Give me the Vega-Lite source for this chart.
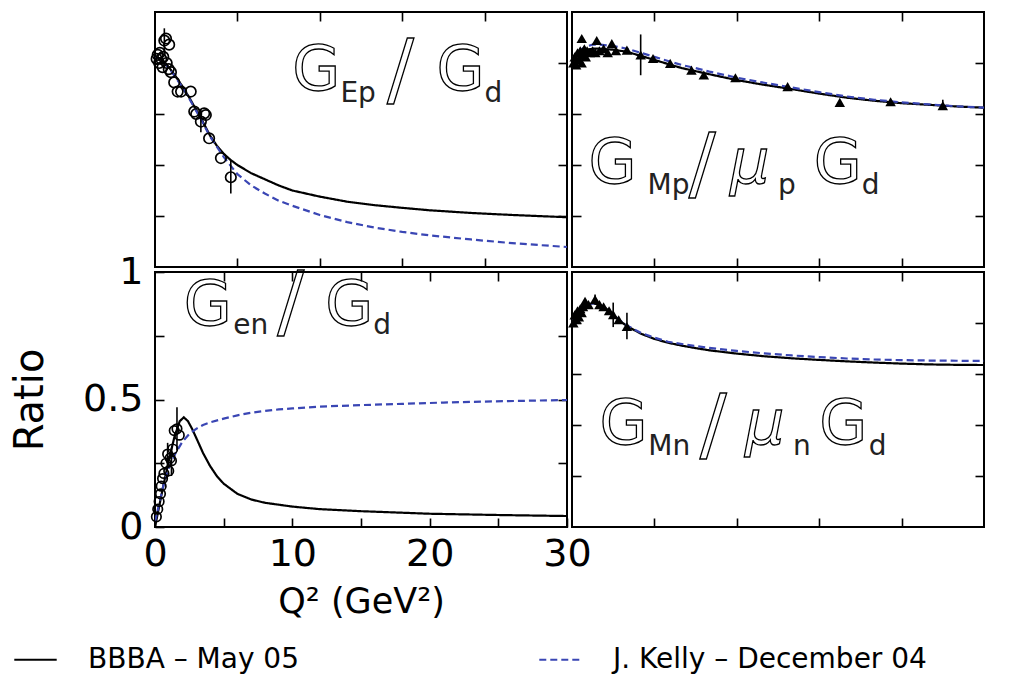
{
  "$schema": "https://vega.github.io/schema/vega-lite/v6.json",
  "padding": {"left": 9, "top": 10, "right": 5, "bottom": 0},
  "background": "white",
  "config": {
    "view": {"stroke": "black", "strokeWidth": 2},
    "axis": {"grid": false, "domain": false, "ticks": true, "tickSize": -9, "tickColor": "black", "tickWidth": 1.6, "labelFont": "DejaVu Sans", "labelFontSize": 38, "labelColor": "black", "titleFont": "DejaVu Sans", "titleFontWeight": "normal", "titleColor": "black", "labelFlush": false, "labelOverlap": false},
    "text": {"font": "DejaVu Sans"}
  },
  "datasets": {
    "curves": [
      {"p":"EP","m":"BBBA – May 05","q":0,"r":1.03},{"p":"EP","m":"BBBA – May 05","q":0.5,"r":1.015},{"p":"EP","m":"BBBA – May 05","q":1,"r":0.98},{"p":"EP","m":"BBBA – May 05","q":1.5,"r":0.935},{"p":"EP","m":"BBBA – May 05","q":2,"r":0.885},{"p":"EP","m":"BBBA – May 05","q":2.5,"r":0.83},{"p":"EP","m":"BBBA – May 05","q":3,"r":0.77},{"p":"EP","m":"BBBA – May 05","q":3.5,"r":0.71},{"p":"EP","m":"BBBA – May 05","q":4,"r":0.645},{"p":"EP","m":"BBBA – May 05","q":4.5,"r":0.595},{"p":"EP","m":"BBBA – May 05","q":5,"r":0.555},{"p":"EP","m":"BBBA – May 05","q":5.5,"r":0.525},{"p":"EP","m":"BBBA – May 05","q":6,"r":0.5},{"p":"EP","m":"BBBA – May 05","q":7,"r":0.46},{"p":"EP","m":"BBBA – May 05","q":8,"r":0.43},{"p":"EP","m":"BBBA – May 05","q":9,"r":0.4},{"p":"EP","m":"BBBA – May 05","q":10,"r":0.375},{"p":"EP","m":"BBBA – May 05","q":12,"r":0.345},{"p":"EP","m":"BBBA – May 05","q":14,"r":0.32},{"p":"EP","m":"BBBA – May 05","q":16,"r":0.303},{"p":"EP","m":"BBBA – May 05","q":18,"r":0.29},{"p":"EP","m":"BBBA – May 05","q":20,"r":0.278},{"p":"EP","m":"BBBA – May 05","q":23,"r":0.265},{"p":"EP","m":"BBBA – May 05","q":26,"r":0.255},{"p":"EP","m":"BBBA – May 05","q":30,"r":0.244},
      {"p":"EP","m":"J. Kelly – December 04","q":0,"r":1.03},{"p":"EP","m":"J. Kelly – December 04","q":0.5,"r":1.015},{"p":"EP","m":"J. Kelly – December 04","q":1,"r":0.975},{"p":"EP","m":"J. Kelly – December 04","q":1.5,"r":0.93},{"p":"EP","m":"J. Kelly – December 04","q":2,"r":0.88},{"p":"EP","m":"J. Kelly – December 04","q":2.5,"r":0.825},{"p":"EP","m":"J. Kelly – December 04","q":3,"r":0.765},{"p":"EP","m":"J. Kelly – December 04","q":3.5,"r":0.705},{"p":"EP","m":"J. Kelly – December 04","q":4,"r":0.64},{"p":"EP","m":"J. Kelly – December 04","q":4.5,"r":0.59},{"p":"EP","m":"J. Kelly – December 04","q":5,"r":0.54},{"p":"EP","m":"J. Kelly – December 04","q":5.5,"r":0.497},{"p":"EP","m":"J. Kelly – December 04","q":6,"r":0.455},{"p":"EP","m":"J. Kelly – December 04","q":7,"r":0.4},{"p":"EP","m":"J. Kelly – December 04","q":8,"r":0.36},{"p":"EP","m":"J. Kelly – December 04","q":9,"r":0.325},{"p":"EP","m":"J. Kelly – December 04","q":10,"r":0.3},{"p":"EP","m":"J. Kelly – December 04","q":12,"r":0.255},{"p":"EP","m":"J. Kelly – December 04","q":14,"r":0.22},{"p":"EP","m":"J. Kelly – December 04","q":16,"r":0.193},{"p":"EP","m":"J. Kelly – December 04","q":18,"r":0.172},{"p":"EP","m":"J. Kelly – December 04","q":20,"r":0.155},{"p":"EP","m":"J. Kelly – December 04","q":23,"r":0.135},{"p":"EP","m":"J. Kelly – December 04","q":26,"r":0.117},{"p":"EP","m":"J. Kelly – December 04","q":30,"r":0.098},
      {"p":"MP","m":"BBBA – May 05","q":0,"r":1.02},{"p":"MP","m":"BBBA – May 05","q":0.5,"r":1.05},{"p":"MP","m":"BBBA – May 05","q":1,"r":1.065},{"p":"MP","m":"BBBA – May 05","q":1.5,"r":1.07},{"p":"MP","m":"BBBA – May 05","q":2,"r":1.07},{"p":"MP","m":"BBBA – May 05","q":3,"r":1.065},{"p":"MP","m":"BBBA – May 05","q":4,"r":1.055},{"p":"MP","m":"BBBA – May 05","q":5,"r":1.035},{"p":"MP","m":"BBBA – May 05","q":6,"r":1.015},{"p":"MP","m":"BBBA – May 05","q":7,"r":0.995},{"p":"MP","m":"BBBA – May 05","q":8,"r":0.975},{"p":"MP","m":"BBBA – May 05","q":9,"r":0.96},{"p":"MP","m":"BBBA – May 05","q":10,"r":0.945},{"p":"MP","m":"BBBA – May 05","q":12,"r":0.916},{"p":"MP","m":"BBBA – May 05","q":14,"r":0.893},{"p":"MP","m":"BBBA – May 05","q":16,"r":0.872},{"p":"MP","m":"BBBA – May 05","q":18,"r":0.85},{"p":"MP","m":"BBBA – May 05","q":20,"r":0.83},{"p":"MP","m":"BBBA – May 05","q":22,"r":0.815},{"p":"MP","m":"BBBA – May 05","q":24,"r":0.803},{"p":"MP","m":"BBBA – May 05","q":26,"r":0.795},{"p":"MP","m":"BBBA – May 05","q":28,"r":0.787},{"p":"MP","m":"BBBA – May 05","q":30,"r":0.781},
      {"p":"MP","m":"J. Kelly – December 04","q":0,"r":1.02},{"p":"MP","m":"J. Kelly – December 04","q":0.5,"r":1.06},{"p":"MP","m":"J. Kelly – December 04","q":1,"r":1.08},{"p":"MP","m":"J. Kelly – December 04","q":1.5,"r":1.09},{"p":"MP","m":"J. Kelly – December 04","q":2,"r":1.09},{"p":"MP","m":"J. Kelly – December 04","q":3,"r":1.083},{"p":"MP","m":"J. Kelly – December 04","q":4,"r":1.07},{"p":"MP","m":"J. Kelly – December 04","q":5,"r":1.05},{"p":"MP","m":"J. Kelly – December 04","q":6,"r":1.03},{"p":"MP","m":"J. Kelly – December 04","q":7,"r":1.01},{"p":"MP","m":"J. Kelly – December 04","q":8,"r":0.99},{"p":"MP","m":"J. Kelly – December 04","q":9,"r":0.975},{"p":"MP","m":"J. Kelly – December 04","q":10,"r":0.958},{"p":"MP","m":"J. Kelly – December 04","q":12,"r":0.928},{"p":"MP","m":"J. Kelly – December 04","q":14,"r":0.903},{"p":"MP","m":"J. Kelly – December 04","q":16,"r":0.88},{"p":"MP","m":"J. Kelly – December 04","q":18,"r":0.857},{"p":"MP","m":"J. Kelly – December 04","q":20,"r":0.836},{"p":"MP","m":"J. Kelly – December 04","q":22,"r":0.82},{"p":"MP","m":"J. Kelly – December 04","q":24,"r":0.807},{"p":"MP","m":"J. Kelly – December 04","q":26,"r":0.797},{"p":"MP","m":"J. Kelly – December 04","q":28,"r":0.788},{"p":"MP","m":"J. Kelly – December 04","q":30,"r":0.781},
      {"p":"EN","m":"BBBA – May 05","q":0,"r":0},{"p":"EN","m":"BBBA – May 05","q":0.3,"r":0.08},{"p":"EN","m":"BBBA – May 05","q":0.6,"r":0.16},{"p":"EN","m":"BBBA – May 05","q":1,"r":0.26},{"p":"EN","m":"BBBA – May 05","q":1.4,"r":0.35},{"p":"EN","m":"BBBA – May 05","q":1.8,"r":0.415},{"p":"EN","m":"BBBA – May 05","q":2.1,"r":0.43},{"p":"EN","m":"BBBA – May 05","q":2.4,"r":0.415},{"p":"EN","m":"BBBA – May 05","q":2.7,"r":0.385},{"p":"EN","m":"BBBA – May 05","q":3,"r":0.35},{"p":"EN","m":"BBBA – May 05","q":3.5,"r":0.29},{"p":"EN","m":"BBBA – May 05","q":4,"r":0.24},{"p":"EN","m":"BBBA – May 05","q":4.5,"r":0.2},{"p":"EN","m":"BBBA – May 05","q":5,"r":0.17},{"p":"EN","m":"BBBA – May 05","q":6,"r":0.13},{"p":"EN","m":"BBBA – May 05","q":7,"r":0.108},{"p":"EN","m":"BBBA – May 05","q":8,"r":0.095},{"p":"EN","m":"BBBA – May 05","q":10,"r":0.08},{"p":"EN","m":"BBBA – May 05","q":12,"r":0.07},{"p":"EN","m":"BBBA – May 05","q":15,"r":0.062},{"p":"EN","m":"BBBA – May 05","q":20,"r":0.052},{"p":"EN","m":"BBBA – May 05","q":25,"r":0.047},{"p":"EN","m":"BBBA – May 05","q":30,"r":0.043},
      {"p":"EN","m":"J. Kelly – December 04","q":0,"r":0.02},{"p":"EN","m":"J. Kelly – December 04","q":0.3,"r":0.09},{"p":"EN","m":"J. Kelly – December 04","q":0.6,"r":0.16},{"p":"EN","m":"J. Kelly – December 04","q":1,"r":0.23},{"p":"EN","m":"J. Kelly – December 04","q":1.5,"r":0.29},{"p":"EN","m":"J. Kelly – December 04","q":2,"r":0.335},{"p":"EN","m":"J. Kelly – December 04","q":2.5,"r":0.365},{"p":"EN","m":"J. Kelly – December 04","q":3,"r":0.385},{"p":"EN","m":"J. Kelly – December 04","q":3.5,"r":0.4},{"p":"EN","m":"J. Kelly – December 04","q":4,"r":0.41},{"p":"EN","m":"J. Kelly – December 04","q":5,"r":0.425},{"p":"EN","m":"J. Kelly – December 04","q":6,"r":0.438},{"p":"EN","m":"J. Kelly – December 04","q":7,"r":0.448},{"p":"EN","m":"J. Kelly – December 04","q":8,"r":0.455},{"p":"EN","m":"J. Kelly – December 04","q":9,"r":0.461},{"p":"EN","m":"J. Kelly – December 04","q":10,"r":0.465},{"p":"EN","m":"J. Kelly – December 04","q":12,"r":0.472},{"p":"EN","m":"J. Kelly – December 04","q":15,"r":0.478},{"p":"EN","m":"J. Kelly – December 04","q":18,"r":0.483},{"p":"EN","m":"J. Kelly – December 04","q":21,"r":0.488},{"p":"EN","m":"J. Kelly – December 04","q":24,"r":0.492},{"p":"EN","m":"J. Kelly – December 04","q":27,"r":0.495},{"p":"EN","m":"J. Kelly – December 04","q":30,"r":0.498},
      {"p":"MN","m":"BBBA – May 05","q":0,"r":1.02},{"p":"MN","m":"BBBA – May 05","q":0.5,"r":1.06},{"p":"MN","m":"BBBA – May 05","q":1,"r":1.085},{"p":"MN","m":"BBBA – May 05","q":1.5,"r":1.097},{"p":"MN","m":"BBBA – May 05","q":2,"r":1.09},{"p":"MN","m":"BBBA – May 05","q":2.5,"r":1.07},{"p":"MN","m":"BBBA – May 05","q":3,"r":1.04},{"p":"MN","m":"BBBA – May 05","q":3.5,"r":1.01},{"p":"MN","m":"BBBA – May 05","q":4,"r":0.985},{"p":"MN","m":"BBBA – May 05","q":5,"r":0.948},{"p":"MN","m":"BBBA – May 05","q":6,"r":0.922},{"p":"MN","m":"BBBA – May 05","q":7,"r":0.903},{"p":"MN","m":"BBBA – May 05","q":8,"r":0.889},{"p":"MN","m":"BBBA – May 05","q":9,"r":0.877},{"p":"MN","m":"BBBA – May 05","q":10,"r":0.866},{"p":"MN","m":"BBBA – May 05","q":12,"r":0.85},{"p":"MN","m":"BBBA – May 05","q":14,"r":0.837},{"p":"MN","m":"BBBA – May 05","q":16,"r":0.827},{"p":"MN","m":"BBBA – May 05","q":18,"r":0.819},{"p":"MN","m":"BBBA – May 05","q":20,"r":0.812},{"p":"MN","m":"BBBA – May 05","q":22,"r":0.806},{"p":"MN","m":"BBBA – May 05","q":24,"r":0.801},{"p":"MN","m":"BBBA – May 05","q":26,"r":0.797},{"p":"MN","m":"BBBA – May 05","q":28,"r":0.795},{"p":"MN","m":"BBBA – May 05","q":30,"r":0.794},
      {"p":"MN","m":"J. Kelly – December 04","q":0,"r":1.02},{"p":"MN","m":"J. Kelly – December 04","q":0.5,"r":1.06},{"p":"MN","m":"J. Kelly – December 04","q":1,"r":1.085},{"p":"MN","m":"J. Kelly – December 04","q":1.5,"r":1.097},{"p":"MN","m":"J. Kelly – December 04","q":2,"r":1.09},{"p":"MN","m":"J. Kelly – December 04","q":2.5,"r":1.07},{"p":"MN","m":"J. Kelly – December 04","q":3,"r":1.04},{"p":"MN","m":"J. Kelly – December 04","q":3.5,"r":1.012},{"p":"MN","m":"J. Kelly – December 04","q":4,"r":0.988},{"p":"MN","m":"J. Kelly – December 04","q":5,"r":0.952},{"p":"MN","m":"J. Kelly – December 04","q":6,"r":0.928},{"p":"MN","m":"J. Kelly – December 04","q":7,"r":0.908},{"p":"MN","m":"J. Kelly – December 04","q":8,"r":0.897},{"p":"MN","m":"J. Kelly – December 04","q":9,"r":0.887},{"p":"MN","m":"J. Kelly – December 04","q":10,"r":0.878},{"p":"MN","m":"J. Kelly – December 04","q":12,"r":0.863},{"p":"MN","m":"J. Kelly – December 04","q":14,"r":0.851},{"p":"MN","m":"J. Kelly – December 04","q":16,"r":0.841},{"p":"MN","m":"J. Kelly – December 04","q":18,"r":0.833},{"p":"MN","m":"J. Kelly – December 04","q":20,"r":0.826},{"p":"MN","m":"J. Kelly – December 04","q":22,"r":0.821},{"p":"MN","m":"J. Kelly – December 04","q":24,"r":0.818},{"p":"MN","m":"J. Kelly – December 04","q":26,"r":0.816},{"p":"MN","m":"J. Kelly – December 04","q":28,"r":0.815},{"p":"MN","m":"J. Kelly – December 04","q":30,"r":0.814}
    ],
    "pts": [
      {"p":"EP","q":0.12,"r":1.02},{"p":"EP","q":0.2,"r":1.04},{"p":"EP","q":0.3,"r":1.0},{"p":"EP","q":0.35,"r":1.05},{"p":"EP","q":0.45,"r":1.02},{"p":"EP","q":0.55,"r":0.98},{"p":"EP","q":0.6,"r":1.03},{"p":"EP","q":0.68,"r":1.11,"lo":1.05,"hi":1.17},{"p":"EP","q":0.8,"r":1.12},{"p":"EP","q":0.85,"r":1.0},{"p":"EP","q":1.03,"r":1.09},{"p":"EP","q":1.0,"r":0.97},{"p":"EP","q":1.16,"r":0.955},{"p":"EP","q":1.4,"r":0.905},{"p":"EP","q":1.65,"r":0.86},{"p":"EP","q":1.9,"r":0.86},{"p":"EP","q":2.6,"r":0.86},{"p":"EP","q":2.86,"r":0.762},{"p":"EP","q":3.0,"r":0.75},{"p":"EP","q":3.34,"r":0.713,"lo":0.66,"hi":0.77},{"p":"EP","q":3.58,"r":0.753},{"p":"EP","q":3.7,"r":0.745},{"p":"EP","q":3.94,"r":0.631},{"p":"EP","q":4.8,"r":0.534},{"p":"EP","q":5.52,"r":0.44,"lo":0.36,"hi":0.52},
      {"p":"EN","q":0.1,"r":0.04},{"p":"EN","q":0.2,"r":0.07},{"p":"EN","q":0.3,"r":0.1},{"p":"EN","q":0.4,"r":0.13},{"p":"EN","q":0.45,"r":0.16},{"p":"EN","q":0.55,"r":0.19},{"p":"EN","q":0.65,"r":0.21},{"p":"EN","q":0.8,"r":0.25},{"p":"EN","q":0.92,"r":0.286,"lo":0.24,"hi":0.33},{"p":"EN","q":1.0,"r":0.22},{"p":"EN","q":1.1,"r":0.27},{"p":"EN","q":1.2,"r":0.26,"lo":0.2,"hi":0.31},{"p":"EN","q":1.29,"r":0.306},{"p":"EN","q":1.4,"r":0.378},{"p":"EN","q":1.6,"r":0.385,"lo":0.3,"hi":0.47},{"p":"EN","q":1.77,"r":0.36},
      {"p":"MP","q":0.1,"r":1.0},{"p":"MP","q":0.2,"r":1.03},{"p":"MP","q":0.3,"r":0.99},{"p":"MP","q":0.4,"r":1.05},{"p":"MP","q":0.5,"r":1.02},{"p":"MP","q":0.6,"r":1.06},{"p":"MP","q":0.7,"r":1.0},{"p":"MP","q":0.71,"r":1.12},{"p":"MP","q":0.8,"r":1.04},{"p":"MP","q":0.9,"r":1.07},{"p":"MP","q":1.0,"r":1.03},{"p":"MP","q":1.1,"r":1.06},{"p":"MP","q":1.3,"r":1.05},{"p":"MP","q":1.5,"r":1.06},{"p":"MP","q":1.7,"r":1.05},{"p":"MP","q":1.8,"r":1.11},{"p":"MP","q":2.0,"r":1.06},{"p":"MP","q":2.3,"r":1.07},{"p":"MP","q":2.6,"r":1.05},{"p":"MP","q":2.9,"r":1.095},{"p":"MP","q":3.2,"r":1.06},{"p":"MP","q":4.0,"r":1.063},{"p":"MP","q":5.0,"r":1.039,"lo":0.94,"hi":1.14},{"p":"MP","q":5.9,"r":1.022},{"p":"MP","q":7.15,"r":0.998},{"p":"MP","q":8.7,"r":0.965},{"p":"MP","q":9.6,"r":0.941},{"p":"MP","q":11.9,"r":0.928},{"p":"MP","q":15.7,"r":0.884},{"p":"MP","q":19.5,"r":0.807},{"p":"MP","q":23.2,"r":0.81},{"p":"MP","q":27.0,"r":0.791,"lo":0.77,"hi":0.82},
      {"p":"MN","q":0.1,"r":1.0},{"p":"MN","q":0.2,"r":1.04},{"p":"MN","q":0.3,"r":1.02},{"p":"MN","q":0.4,"r":1.06},{"p":"MN","q":0.5,"r":1.03},{"p":"MN","q":0.6,"r":1.07},{"p":"MN","q":0.7,"r":1.05},{"p":"MN","q":0.8,"r":1.08},{"p":"MN","q":0.95,"r":1.107},{"p":"MN","q":1.2,"r":1.09},{"p":"MN","q":1.68,"r":1.115,"lo":1.09,"hi":1.14},{"p":"MN","q":2.0,"r":1.09},{"p":"MN","q":2.3,"r":1.08},{"p":"MN","q":2.7,"r":1.06},{"p":"MN","q":3.0,"r":1.041,"lo":0.98,"hi":1.1},{"p":"MN","q":3.4,"r":1.016},{"p":"MN","q":4.0,"r":0.983,"lo":0.92,"hi":1.05}
    ],
    "lab": [
      {"p":"EP","k":"big","t":"G","q":10.0,"r":0.869},{"p":"EP","k":"small","t":"Ep","q":13.5,"r":0.811},{"p":"EP","k":"slash","t":"/","q":16.9,"r":0.835},{"p":"EP","k":"big","t":"G","q":20.5,"r":0.869},{"p":"EP","k":"small","t":"d","q":24.0,"r":0.811},
      {"p":"MP","k":"big","t":"G","q":1.2,"r":0.41},{"p":"MP","k":"small","t":"Mp","q":5.5,"r":0.356},{"p":"MP","k":"slash","t":"/","q":8.5,"r":0.371},{"p":"MP","k":"mu","t":"μ","q":11.5,"r":0.41},{"p":"MP","k":"small","t":"p","q":15.0,"r":0.356},{"p":"MP","k":"big","t":"G","q":17.6,"r":0.41},{"p":"MP","k":"small","t":"d","q":21.1,"r":0.356},
      {"p":"EN","k":"big","t":"G","q":2.1,"r":0.794},{"p":"EN","k":"small","t":"en","q":5.7,"r":0.755},{"p":"EN","k":"slash","t":"/","q":8.9,"r":0.775},{"p":"EN","k":"big","t":"G","q":12.4,"r":0.794},{"p":"EN","k":"small","t":"d","q":15.9,"r":0.755},
      {"p":"MN","k":"big","t":"G","q":2.0,"r":0.405},{"p":"MN","k":"small","t":"Mn","q":5.55,"r":0.351},{"p":"MN","k":"slash","t":"/","q":9.3,"r":0.366},{"p":"MN","k":"mu","t":"μ","q":12.6,"r":0.405},{"p":"MN","k":"small","t":"n","q":16.1,"r":0.351},{"p":"MN","k":"big","t":"G","q":18.0,"r":0.405},{"p":"MN","k":"small","t":"d","q":21.6,"r":0.351}
    ]
  },
  "columns": 2,
  "spacing": 5,
  "bounds": "flush",
  "concat": [
    {
      "width": 412, "height": 255,
      "layer": [
        {
          "data": {"name": "curves"}, "transform": [{"filter": "datum.p == 'EP'"}],
          "mark": {"type": "line", "strokeWidth": 2.2, "clip": true},
          "encoding": {
            "x": {"field": "q", "type": "quantitative", "scale": {"domain": [0, 30], "nice": false, "zero": false}, "axis": {"orient": "bottom", "values": [6, 12, 18, 24], "labels": false, "title": null}},
            "y": {"field": "r", "type": "quantitative", "scale": {"domain": [0, 1.25], "nice": false}, "axis": {"orient": "left", "values": [0.25, 0.5, 0.75, 1], "labels": false, "title": null}},
            "color": {"field": "m", "type": "nominal", "title": null, "scale": {"domain": ["BBBA – May 05", "J. Kelly – December 04"], "range": ["#000000", "#3a46b4"]}, "legend": {"orient": "none", "legendX": -142, "legendY": 625, "direction": "horizontal", "columns": 2, "symbolType": "stroke", "symbolSize": 1800, "symbolStrokeWidth": 2.2, "labelFont": "DejaVu Sans", "labelFontSize": 28, "labelColor": "black", "labelOffset": 30, "columnPadding": 235, "labelLimit": 600}},
            "strokeDash": {"field": "m", "type": "nominal", "title": null, "scale": {"domain": ["BBBA – May 05", "J. Kelly – December 04"], "range": [[1, 0], [7, 4]]}, "legend": {"orient": "none", "legendX": -142, "legendY": 625, "direction": "horizontal", "columns": 2, "symbolType": "stroke", "symbolSize": 1800, "symbolStrokeWidth": 2.2, "labelFont": "DejaVu Sans", "labelFontSize": 28, "labelColor": "black", "labelOffset": 30, "columnPadding": 235, "labelLimit": 600}}
          }
        },
        {
          "data": {"name": "pts"}, "transform": [{"filter": "datum.p == 'EP' && isValid(datum.lo)"}],
          "mark": {"type": "rule", "color": "black", "strokeWidth": 1.6},
          "encoding": {
            "x": {"field": "q", "type": "quantitative", "axis": {"orient": "top", "values": [6, 12, 18, 24], "labels": false, "title": null}},
            "y": {"field": "lo", "type": "quantitative", "axis": {"orient": "right", "values": [0.25, 0.5, 0.75, 1], "labels": false, "title": null}},
            "y2": {"field": "hi"}
          }
        },
        {
          "data": {"name": "pts"}, "transform": [{"filter": "datum.p == 'EP'"}],
          "mark": {"type": "point", "shape": "circle", "filled": false, "color": "black", "opacity": 1, "size": 110, "strokeWidth": 1.7},
          "encoding": {"x": {"field": "q", "type": "quantitative", "axis": null}, "y": {"field": "r", "type": "quantitative", "axis": null}}
        },
        {
          "data": {"name": "lab"}, "transform": [{"filter": "datum.p == 'EP' && datum.k == 'big'"}],
          "mark": {"type": "text", "align": "left", "baseline": "alphabetic", "fontSize": 62, "fill": "white", "fillOpacity": 0, "stroke": "black", "strokeWidth": 1.3},
          "encoding": {"x": {"field": "q", "type": "quantitative", "axis": null}, "y": {"field": "r", "type": "quantitative", "axis": null}, "text": {"field": "t"}}
        },
        {
          "data": {"name": "lab"}, "transform": [{"filter": "datum.p == 'EP' && datum.k == 'slash'"}],
          "mark": {"type": "text", "align": "left", "baseline": "alphabetic", "fontSize": 80, "fill": "white", "fillOpacity": 0, "stroke": "black", "strokeWidth": 1.3},
          "encoding": {"x": {"field": "q", "type": "quantitative", "axis": null}, "y": {"field": "r", "type": "quantitative", "axis": null}, "text": {"field": "t"}}
        },
        {
          "data": {"name": "lab"}, "transform": [{"filter": "datum.p == 'EP' && datum.k == 'small'"}],
          "mark": {"type": "text", "align": "left", "baseline": "alphabetic", "fontSize": 28, "fill": "#222222"},
          "encoding": {"x": {"field": "q", "type": "quantitative", "axis": null}, "y": {"field": "r", "type": "quantitative", "axis": null}, "text": {"field": "t"}}
        }
      ]
    },
    {
      "width": 412, "height": 255,
      "layer": [
        {
          "data": {"name": "curves"}, "transform": [{"filter": "datum.p == 'MP'"}],
          "mark": {"type": "line", "strokeWidth": 2.2, "clip": true},
          "encoding": {
            "x": {"field": "q", "type": "quantitative", "scale": {"domain": [0, 30], "nice": false, "zero": false}, "axis": {"orient": "bottom", "values": [6, 12, 18, 24], "labels": false, "title": null}},
            "y": {"field": "r", "type": "quantitative", "scale": {"domain": [0, 1.25], "nice": false}, "axis": {"orient": "left", "values": [0.25, 0.5, 0.75, 1], "labels": false, "title": null}},
            "color": {"field": "m", "type": "nominal", "title": null},
            "strokeDash": {"field": "m", "type": "nominal", "title": null}
          }
        },
        {
          "data": {"name": "pts"}, "transform": [{"filter": "datum.p == 'MP' && isValid(datum.lo)"}],
          "mark": {"type": "rule", "color": "black", "strokeWidth": 1.6},
          "encoding": {
            "x": {"field": "q", "type": "quantitative", "axis": {"orient": "top", "values": [6, 12, 18, 24], "labels": false, "title": null}},
            "y": {"field": "lo", "type": "quantitative", "axis": {"orient": "right", "values": [0.25, 0.5, 0.75, 1], "labels": false, "title": null}},
            "y2": {"field": "hi"}
          }
        },
        {
          "data": {"name": "pts"}, "transform": [{"filter": "datum.p == 'MP'"}],
          "mark": {"type": "point", "shape": "triangle-up", "filled": true, "color": "black", "size": 110, "opacity": 1},
          "encoding": {"x": {"field": "q", "type": "quantitative", "axis": null}, "y": {"field": "r", "type": "quantitative", "axis": null}}
        },
        {
          "data": {"name": "lab"}, "transform": [{"filter": "datum.p == 'MP' && datum.k == 'big'"}],
          "mark": {"type": "text", "align": "left", "baseline": "alphabetic", "fontSize": 62, "fill": "white", "fillOpacity": 0, "stroke": "black", "strokeWidth": 1.3},
          "encoding": {"x": {"field": "q", "type": "quantitative", "axis": null}, "y": {"field": "r", "type": "quantitative", "axis": null}, "text": {"field": "t"}}
        },
        {
          "data": {"name": "lab"}, "transform": [{"filter": "datum.p == 'MP' && datum.k == 'mu'"}],
          "mark": {"type": "text", "align": "left", "baseline": "alphabetic", "fontSize": 62, "fontStyle": "italic", "fill": "white", "fillOpacity": 0, "stroke": "black", "strokeWidth": 1.3},
          "encoding": {"x": {"field": "q", "type": "quantitative", "axis": null}, "y": {"field": "r", "type": "quantitative", "axis": null}, "text": {"field": "t"}}
        },
        {
          "data": {"name": "lab"}, "transform": [{"filter": "datum.p == 'MP' && datum.k == 'slash'"}],
          "mark": {"type": "text", "align": "left", "baseline": "alphabetic", "fontSize": 80, "fill": "white", "fillOpacity": 0, "stroke": "black", "strokeWidth": 1.3},
          "encoding": {"x": {"field": "q", "type": "quantitative", "axis": null}, "y": {"field": "r", "type": "quantitative", "axis": null}, "text": {"field": "t"}}
        },
        {
          "data": {"name": "lab"}, "transform": [{"filter": "datum.p == 'MP' && datum.k == 'small'"}],
          "mark": {"type": "text", "align": "left", "baseline": "alphabetic", "fontSize": 28, "fill": "#222222"},
          "encoding": {"x": {"field": "q", "type": "quantitative", "axis": null}, "y": {"field": "r", "type": "quantitative", "axis": null}, "text": {"field": "t"}}
        }
      ]
    },
    {
      "width": 412, "height": 255,
      "layer": [
        {
          "data": {"name": "curves"}, "transform": [{"filter": "datum.p == 'EN'"}],
          "mark": {"type": "line", "strokeWidth": 2.2, "clip": true},
          "encoding": {
            "x": {"field": "q", "type": "quantitative", "scale": {"domain": [0, 30], "nice": false, "zero": false}, "axis": {"orient": "bottom", "values": [0, 5, 10, 15, 20, 25, 30], "labelExpr": "datum.value % 10 == 0 ? datum.label : ''", "labelPadding": 17, "title": "Q² (GeV²)", "titleFontSize": 35, "titlePadding": 11}},
            "y": {"field": "r", "type": "quantitative", "scale": {"domain": [0, 1], "nice": false}, "axis": {"orient": "left", "values": [0, 0.25, 0.5, 0.75, 1], "labelExpr": "datum.value == 0 ? '0' : datum.value == 0.5 ? '0.5' : datum.value == 1 ? '1' : ''", "labelPadding": 21, "title": "Ratio", "titleFontSize": 40, "titlePadding": 32}},
            "color": {"field": "m", "type": "nominal", "title": null},
            "strokeDash": {"field": "m", "type": "nominal", "title": null}
          }
        },
        {
          "data": {"name": "pts"}, "transform": [{"filter": "datum.p == 'EN' && isValid(datum.lo)"}],
          "mark": {"type": "rule", "color": "black", "strokeWidth": 1.6},
          "encoding": {
            "x": {"field": "q", "type": "quantitative", "axis": {"orient": "top", "values": [5, 10, 15, 20, 25], "labels": false, "title": null}},
            "y": {"field": "lo", "type": "quantitative", "axis": {"orient": "right", "values": [0.25, 0.5, 0.75], "labels": false, "title": null}},
            "y2": {"field": "hi"}
          }
        },
        {
          "data": {"name": "pts"}, "transform": [{"filter": "datum.p == 'EN'"}],
          "mark": {"type": "point", "shape": "circle", "filled": false, "color": "black", "opacity": 1, "size": 90, "strokeWidth": 1.7},
          "encoding": {"x": {"field": "q", "type": "quantitative", "axis": null}, "y": {"field": "r", "type": "quantitative", "axis": null}}
        },
        {
          "data": {"name": "lab"}, "transform": [{"filter": "datum.p == 'EN' && datum.k == 'big'"}],
          "mark": {"type": "text", "align": "left", "baseline": "alphabetic", "fontSize": 62, "fill": "white", "fillOpacity": 0, "stroke": "black", "strokeWidth": 1.3},
          "encoding": {"x": {"field": "q", "type": "quantitative", "axis": null}, "y": {"field": "r", "type": "quantitative", "axis": null}, "text": {"field": "t"}}
        },
        {
          "data": {"name": "lab"}, "transform": [{"filter": "datum.p == 'EN' && datum.k == 'slash'"}],
          "mark": {"type": "text", "align": "left", "baseline": "alphabetic", "fontSize": 80, "fill": "white", "fillOpacity": 0, "stroke": "black", "strokeWidth": 1.3},
          "encoding": {"x": {"field": "q", "type": "quantitative", "axis": null}, "y": {"field": "r", "type": "quantitative", "axis": null}, "text": {"field": "t"}}
        },
        {
          "data": {"name": "lab"}, "transform": [{"filter": "datum.p == 'EN' && datum.k == 'small'"}],
          "mark": {"type": "text", "align": "left", "baseline": "alphabetic", "fontSize": 28, "fill": "#222222"},
          "encoding": {"x": {"field": "q", "type": "quantitative", "axis": null}, "y": {"field": "r", "type": "quantitative", "axis": null}, "text": {"field": "t"}}
        }
      ]
    },
    {
      "width": 412, "height": 255,
      "layer": [
        {
          "data": {"name": "curves"}, "transform": [{"filter": "datum.p == 'MN'"}],
          "mark": {"type": "line", "strokeWidth": 2.2, "clip": true},
          "encoding": {
            "x": {"field": "q", "type": "quantitative", "scale": {"domain": [0, 30], "nice": false, "zero": false}, "axis": {"orient": "bottom", "values": [6, 12, 18, 24], "labels": false, "title": null}},
            "y": {"field": "r", "type": "quantitative", "scale": {"domain": [0, 1.25], "nice": false}, "axis": {"orient": "left", "values": [0.25, 0.5, 0.75, 1], "labels": false, "title": null}},
            "color": {"field": "m", "type": "nominal", "title": null},
            "strokeDash": {"field": "m", "type": "nominal", "title": null}
          }
        },
        {
          "data": {"name": "pts"}, "transform": [{"filter": "datum.p == 'MN' && isValid(datum.lo)"}],
          "mark": {"type": "rule", "color": "black", "strokeWidth": 1.6},
          "encoding": {
            "x": {"field": "q", "type": "quantitative", "axis": {"orient": "top", "values": [6, 12, 18, 24], "labels": false, "title": null}},
            "y": {"field": "lo", "type": "quantitative", "axis": {"orient": "right", "values": [0.25, 0.5, 0.75, 1], "labels": false, "title": null}},
            "y2": {"field": "hi"}
          }
        },
        {
          "data": {"name": "pts"}, "transform": [{"filter": "datum.p == 'MN'"}],
          "mark": {"type": "point", "shape": "triangle-up", "filled": true, "color": "black", "size": 110, "opacity": 1},
          "encoding": {"x": {"field": "q", "type": "quantitative", "axis": null}, "y": {"field": "r", "type": "quantitative", "axis": null}}
        },
        {
          "data": {"name": "lab"}, "transform": [{"filter": "datum.p == 'MN' && datum.k == 'big'"}],
          "mark": {"type": "text", "align": "left", "baseline": "alphabetic", "fontSize": 62, "fill": "white", "fillOpacity": 0, "stroke": "black", "strokeWidth": 1.3},
          "encoding": {"x": {"field": "q", "type": "quantitative", "axis": null}, "y": {"field": "r", "type": "quantitative", "axis": null}, "text": {"field": "t"}}
        },
        {
          "data": {"name": "lab"}, "transform": [{"filter": "datum.p == 'MN' && datum.k == 'mu'"}],
          "mark": {"type": "text", "align": "left", "baseline": "alphabetic", "fontSize": 62, "fontStyle": "italic", "fill": "white", "fillOpacity": 0, "stroke": "black", "strokeWidth": 1.3},
          "encoding": {"x": {"field": "q", "type": "quantitative", "axis": null}, "y": {"field": "r", "type": "quantitative", "axis": null}, "text": {"field": "t"}}
        },
        {
          "data": {"name": "lab"}, "transform": [{"filter": "datum.p == 'MN' && datum.k == 'slash'"}],
          "mark": {"type": "text", "align": "left", "baseline": "alphabetic", "fontSize": 80, "fill": "white", "fillOpacity": 0, "stroke": "black", "strokeWidth": 1.3},
          "encoding": {"x": {"field": "q", "type": "quantitative", "axis": null}, "y": {"field": "r", "type": "quantitative", "axis": null}, "text": {"field": "t"}}
        },
        {
          "data": {"name": "lab"}, "transform": [{"filter": "datum.p == 'MN' && datum.k == 'small'"}],
          "mark": {"type": "text", "align": "left", "baseline": "alphabetic", "fontSize": 28, "fill": "#222222"},
          "encoding": {"x": {"field": "q", "type": "quantitative", "axis": null}, "y": {"field": "r", "type": "quantitative", "axis": null}, "text": {"field": "t"}}
        }
      ]
    }
  ]
}
